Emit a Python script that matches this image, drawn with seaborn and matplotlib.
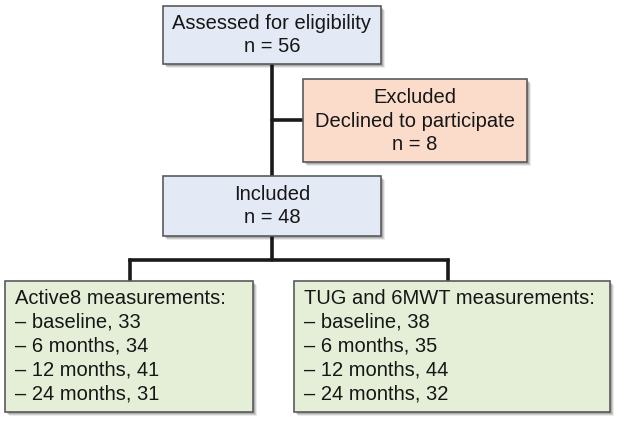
import seaborn as sns
import matplotlib.pyplot as plt
from matplotlib.patches import Rectangle

# données du diagramme
n_assessed = 56
n_excluded = 8
n_included = 48
timepoints = ['baseline', '6 months', '12 months', '24 months']
active8_counts = [33, 34, 41, 31]
tug_counts = [38, 35, 44, 32]

sns.set_style('white')
plt.rcParams['font.family'] = ['Liberation Sans', 'DejaVu Sans']

fig = plt.figure(figsize=(6.24, 4.28), dpi=100)
ax = fig.add_axes([0, 0, 1, 1])
ax.set_xlim(0, 624)
ax.set_ylim(428, 0)
ax.axis('off')

BLUE = '#e3eaf5'
ORANGE = '#fbdcca'
GREEN = '#e5efd7'
EDGE = '#5a5a5a'
LINE = '#1a1a1a'
TXT = '#161616'


def boite(x0, y0, x1, y1, couleur):
    # ombre puis boîte
    for i, a in enumerate([0.08, 0.12, 0.16]):
        d = 4 - i
        ax.add_patch(Rectangle((x0 + d, y0 + d), x1 - x0, y1 - y0,
                               facecolor='black', alpha=a, edgecolor='none', zorder=1))
    ax.add_patch(Rectangle((x0, y0), x1 - x0, y1 - y0, facecolor=couleur,
                           edgecolor=EDGE, linewidth=1.2, zorder=2))


# lignes de connexion
ax.plot([272, 272], [64, 176], color=LINE, lw=2.6, zorder=0)
ax.plot([272, 303], [120, 120], color=LINE, lw=2.6, zorder=0)
ax.plot([272, 272], [236, 260], color=LINE, lw=2.6, zorder=0)
ax.plot([130, 448], [260, 260], color=LINE, lw=2.6, zorder=0, solid_capstyle='projecting')
ax.plot([130, 130], [260, 281], color=LINE, lw=2.6, zorder=0)
ax.plot([448, 448], [260, 281], color=LINE, lw=2.6, zorder=0)

fs = 14.5
ls = 1.33
boite(163, 6, 381, 64, BLUE)
ax.text(272, 35, f'Assessed for eligibility\nn = {n_assessed}', ha='center', va='center',
        fontsize=fs, linespacing=ls, color=TXT, zorder=3)

boite(303, 79, 527, 162, ORANGE)
ax.text(415, 121, f'Excluded\nDeclined to participate\nn = {n_excluded}', ha='center',
        va='center', fontsize=fs, linespacing=ls, color=TXT, zorder=3)

boite(163, 176, 381, 236, BLUE)
ax.text(272, 206, f'Included\nn = {n_included}', ha='center', va='center',
        fontsize=fs, linespacing=ls, color=TXT, zorder=3)

txt_a = 'Active8 measurements:\n' + '\n'.join(f'– {t}, {c}' for t, c in zip(timepoints, active8_counts))
txt_t = 'TUG and 6MWT measurements:\n' + '\n'.join(f'– {t}, {c}' for t, c in zip(timepoints, tug_counts))

boite(5, 281, 253, 412, GREEN)
ax.text(15, 346, txt_a, ha='left', va='center', fontsize=fs, linespacing=ls,
        color=TXT, zorder=3)

boite(294, 281, 610, 412, GREEN)
ax.text(304, 346, txt_t, ha='left', va='center', fontsize=fs, linespacing=ls,
        color=TXT, zorder=3)

fig.savefig('out.png', dpi=100)
